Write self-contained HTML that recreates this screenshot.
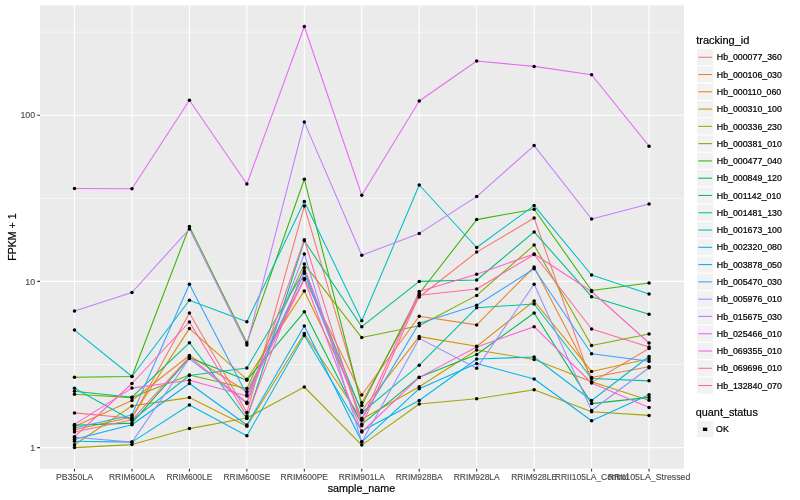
<!DOCTYPE html><html><head><meta charset="utf-8"><title>expression plot</title>
<style>html,body{margin:0;padding:0;background:#fff}svg{display:block;will-change:transform}text{font-family:"Liberation Sans",sans-serif}</style></head><body>
<svg width="800" height="500" viewBox="0 0 800 500">
<rect width="800" height="500" fill="#fff"/>
<rect x="40" y="5.5" width="644" height="463.15" fill="#EBEBEB"/>
<path d="M40 364.5H684M40 198.3H684M40 32.1H684" stroke="#fff" stroke-width="0.53" fill="none" opacity="1"/>
<path d="M40 447.6H684M40 281.4H684M40 115.2H684M74.5 5.5V468.65M131.95 5.5V468.65M189.41 5.5V468.65M246.87 5.5V468.65M304.32 5.5V468.65M361.77 5.5V468.65M419.23 5.5V468.65M476.69 5.5V468.65M534.14 5.5V468.65M591.6 5.5V468.65M649.05 5.5V468.65" stroke="#fff" stroke-width="1.07" fill="none"/>
<g fill="none" stroke-width="1.07" stroke-linejoin="round" stroke-linecap="butt">
<path d="M74.5 412.9L131.95 418.2L189.41 312.9L246.87 412.6L304.32 206.1L361.77 402.7L419.23 297L476.69 252.1L534.14 218L591.6 382.4L649.05 348.5" stroke="#F8766D"/>
<path d="M74.5 426.4L131.95 400.5L189.41 355.5L246.87 391.8L304.32 278.5L361.77 395L419.23 316.3L476.69 324.9L534.14 267L591.6 377.5L649.05 366.8" stroke="#EA8331"/>
<path d="M74.5 429.7L131.95 417L189.41 328.6L246.87 379.3L304.32 290.9L361.77 410.5L419.23 336.6L476.69 346.3L534.14 301L591.6 371.4L649.05 358.8" stroke="#D89000"/>
<path d="M74.5 444.7L131.95 405.9L189.41 397.6L246.87 426.2L304.32 333.5L361.77 419.2L419.23 386.7L476.69 350L534.14 359.5L591.6 381.8L649.05 400.2" stroke="#C09B00"/>
<path d="M74.5 447.6L131.95 444.6L189.41 428.6L246.87 418L304.32 387L361.77 445.1L419.23 404L476.69 398.7L534.14 389.8L591.6 411.7L649.05 415.4" stroke="#A3A500"/>
<path d="M74.5 394.2L131.95 397.6L189.41 374.9L246.87 388.5L304.32 264.1L361.77 337.6L419.23 325.8L476.69 295.4L534.14 245.1L591.6 345.5L649.05 333.9" stroke="#7CAE00"/>
<path d="M74.5 377.2L131.95 376.5L189.41 226.5L246.87 342.7L304.32 179.2L361.77 405.5L419.23 293.5L476.69 219.6L534.14 209.2L591.6 290.5L649.05 283" stroke="#39B600"/>
<path d="M74.5 425.2L131.95 423.1L189.41 357.8L246.87 380.2L304.32 311.8L361.77 424.3L419.23 377.2L476.69 354.5L534.14 313L591.6 403.6L649.05 397.4" stroke="#00BB4E"/>
<path d="M74.5 391.2L131.95 397.2L189.41 342.8L246.87 418.5L304.32 240.8L361.77 326.7L419.23 281.4L476.69 280L534.14 231.9L591.6 296.7L649.05 314.2" stroke="#00BF7D"/>
<path d="M74.5 388.3L131.95 420.3L189.41 375.5L246.87 368L304.32 270.8L361.77 412.5L419.23 365.2L476.69 307.7L534.14 304L591.6 378.5L649.05 380.85" stroke="#00C1A3"/>
<path d="M74.5 330.1L131.95 376.5L189.41 300.3L246.87 321.7L304.32 201.4L361.77 320.7L419.23 185L476.69 247.5L534.14 205.6L591.6 275L649.05 293.9" stroke="#00BFC4"/>
<path d="M74.5 441.3L131.95 442.1L189.41 405L246.87 435.7L304.32 335.5L361.77 431L419.23 400.5L476.69 359L534.14 357L591.6 400.5L649.05 356.5" stroke="#00BAE0"/>
<path d="M74.5 439.2L131.95 424.7L189.41 383.5L246.87 425L304.32 326L361.77 441.8L419.23 388.7L476.69 363.5L534.14 379L591.6 420.7L649.05 394.7" stroke="#00B0F6"/>
<path d="M74.5 428.1L131.95 414.9L189.41 284.3L246.87 394.8L304.32 273.3L361.77 418.6L419.23 323.3L476.69 305.3L534.14 268.7L591.6 353.7L649.05 361.2" stroke="#35A2FF"/>
<path d="M74.5 437.2L131.95 442.1L189.41 358.5L246.87 403.5L304.32 254L361.77 442L419.23 338.4L476.69 368.2L534.14 284.2L591.6 410.5L649.05 367.7" stroke="#9590FF"/>
<path d="M74.5 311.1L131.95 292.5L189.41 229L246.87 345L304.32 122.1L361.77 255.25L419.23 233.4L476.69 196.6L534.14 145.6L591.6 219L649.05 203.9" stroke="#C77CFF"/>
<path d="M74.5 188.5L131.95 188.75L189.41 100.3L246.87 184L304.32 26.5L361.77 195.25L419.23 101L476.69 61L534.14 66.4L591.6 74.75L649.05 146.2" stroke="#E76BF3"/>
<path d="M74.5 424.4L131.95 388.1L189.41 380.3L246.87 396L304.32 279.5L361.77 432L419.23 377.4L476.69 347L534.14 326.7L591.6 383L649.05 407.5" stroke="#FA62DB"/>
<path d="M74.5 436.8L131.95 383.5L189.41 322L246.87 416L304.32 267.8L361.77 420.3L419.23 291.5L476.69 274.2L534.14 254L591.6 291.5L649.05 343" stroke="#FF62BC"/>
<path d="M74.5 431.9L131.95 419.8L189.41 356.8L246.87 402.3L304.32 239.8L361.77 425.8L419.23 295.3L476.69 289L534.14 254.5L591.6 329L649.05 347" stroke="#FF6A98"/>
</g>
<g fill="#000">
<circle cx="74.5" cy="412.9" r="1.75"/>
<circle cx="131.95" cy="418.2" r="1.75"/>
<circle cx="189.41" cy="312.9" r="1.75"/>
<circle cx="246.87" cy="412.6" r="1.75"/>
<circle cx="304.32" cy="206.1" r="1.75"/>
<circle cx="361.77" cy="402.7" r="1.75"/>
<circle cx="419.23" cy="297" r="1.75"/>
<circle cx="476.69" cy="252.1" r="1.75"/>
<circle cx="534.14" cy="218" r="1.75"/>
<circle cx="591.6" cy="382.4" r="1.75"/>
<circle cx="649.05" cy="348.5" r="1.75"/>
<circle cx="74.5" cy="426.4" r="1.75"/>
<circle cx="131.95" cy="400.5" r="1.75"/>
<circle cx="189.41" cy="355.5" r="1.75"/>
<circle cx="246.87" cy="391.8" r="1.75"/>
<circle cx="304.32" cy="278.5" r="1.75"/>
<circle cx="361.77" cy="395" r="1.75"/>
<circle cx="419.23" cy="316.3" r="1.75"/>
<circle cx="476.69" cy="324.9" r="1.75"/>
<circle cx="534.14" cy="267" r="1.75"/>
<circle cx="591.6" cy="377.5" r="1.75"/>
<circle cx="649.05" cy="366.8" r="1.75"/>
<circle cx="74.5" cy="429.7" r="1.75"/>
<circle cx="131.95" cy="417" r="1.75"/>
<circle cx="189.41" cy="328.6" r="1.75"/>
<circle cx="246.87" cy="379.3" r="1.75"/>
<circle cx="304.32" cy="290.9" r="1.75"/>
<circle cx="361.77" cy="410.5" r="1.75"/>
<circle cx="419.23" cy="336.6" r="1.75"/>
<circle cx="476.69" cy="346.3" r="1.75"/>
<circle cx="534.14" cy="301" r="1.75"/>
<circle cx="591.6" cy="371.4" r="1.75"/>
<circle cx="649.05" cy="358.8" r="1.75"/>
<circle cx="74.5" cy="444.7" r="1.75"/>
<circle cx="131.95" cy="405.9" r="1.75"/>
<circle cx="189.41" cy="397.6" r="1.75"/>
<circle cx="246.87" cy="426.2" r="1.75"/>
<circle cx="304.32" cy="333.5" r="1.75"/>
<circle cx="361.77" cy="419.2" r="1.75"/>
<circle cx="419.23" cy="386.7" r="1.75"/>
<circle cx="476.69" cy="350" r="1.75"/>
<circle cx="534.14" cy="359.5" r="1.75"/>
<circle cx="591.6" cy="381.8" r="1.75"/>
<circle cx="649.05" cy="400.2" r="1.75"/>
<circle cx="74.5" cy="447.6" r="1.75"/>
<circle cx="131.95" cy="444.6" r="1.75"/>
<circle cx="189.41" cy="428.6" r="1.75"/>
<circle cx="246.87" cy="418" r="1.75"/>
<circle cx="304.32" cy="387" r="1.75"/>
<circle cx="361.77" cy="445.1" r="1.75"/>
<circle cx="419.23" cy="404" r="1.75"/>
<circle cx="476.69" cy="398.7" r="1.75"/>
<circle cx="534.14" cy="389.8" r="1.75"/>
<circle cx="591.6" cy="411.7" r="1.75"/>
<circle cx="649.05" cy="415.4" r="1.75"/>
<circle cx="74.5" cy="394.2" r="1.75"/>
<circle cx="131.95" cy="397.6" r="1.75"/>
<circle cx="189.41" cy="374.9" r="1.75"/>
<circle cx="246.87" cy="388.5" r="1.75"/>
<circle cx="304.32" cy="264.1" r="1.75"/>
<circle cx="361.77" cy="337.6" r="1.75"/>
<circle cx="419.23" cy="325.8" r="1.75"/>
<circle cx="476.69" cy="295.4" r="1.75"/>
<circle cx="534.14" cy="245.1" r="1.75"/>
<circle cx="591.6" cy="345.5" r="1.75"/>
<circle cx="649.05" cy="333.9" r="1.75"/>
<circle cx="74.5" cy="377.2" r="1.75"/>
<circle cx="131.95" cy="376.5" r="1.75"/>
<circle cx="189.41" cy="226.5" r="1.75"/>
<circle cx="246.87" cy="342.7" r="1.75"/>
<circle cx="304.32" cy="179.2" r="1.75"/>
<circle cx="361.77" cy="405.5" r="1.75"/>
<circle cx="419.23" cy="293.5" r="1.75"/>
<circle cx="476.69" cy="219.6" r="1.75"/>
<circle cx="534.14" cy="209.2" r="1.75"/>
<circle cx="591.6" cy="290.5" r="1.75"/>
<circle cx="649.05" cy="283" r="1.75"/>
<circle cx="74.5" cy="425.2" r="1.75"/>
<circle cx="131.95" cy="423.1" r="1.75"/>
<circle cx="189.41" cy="357.8" r="1.75"/>
<circle cx="246.87" cy="380.2" r="1.75"/>
<circle cx="304.32" cy="311.8" r="1.75"/>
<circle cx="361.77" cy="424.3" r="1.75"/>
<circle cx="419.23" cy="377.2" r="1.75"/>
<circle cx="476.69" cy="354.5" r="1.75"/>
<circle cx="534.14" cy="313" r="1.75"/>
<circle cx="591.6" cy="403.6" r="1.75"/>
<circle cx="649.05" cy="397.4" r="1.75"/>
<circle cx="74.5" cy="391.2" r="1.75"/>
<circle cx="131.95" cy="397.2" r="1.75"/>
<circle cx="189.41" cy="342.8" r="1.75"/>
<circle cx="246.87" cy="418.5" r="1.75"/>
<circle cx="304.32" cy="240.8" r="1.75"/>
<circle cx="361.77" cy="326.7" r="1.75"/>
<circle cx="419.23" cy="281.4" r="1.75"/>
<circle cx="476.69" cy="280" r="1.75"/>
<circle cx="534.14" cy="231.9" r="1.75"/>
<circle cx="591.6" cy="296.7" r="1.75"/>
<circle cx="649.05" cy="314.2" r="1.75"/>
<circle cx="74.5" cy="388.3" r="1.75"/>
<circle cx="131.95" cy="420.3" r="1.75"/>
<circle cx="189.41" cy="375.5" r="1.75"/>
<circle cx="246.87" cy="368" r="1.75"/>
<circle cx="304.32" cy="270.8" r="1.75"/>
<circle cx="361.77" cy="412.5" r="1.75"/>
<circle cx="419.23" cy="365.2" r="1.75"/>
<circle cx="476.69" cy="307.7" r="1.75"/>
<circle cx="534.14" cy="304" r="1.75"/>
<circle cx="591.6" cy="378.5" r="1.75"/>
<circle cx="649.05" cy="380.85" r="1.75"/>
<circle cx="74.5" cy="330.1" r="1.75"/>
<circle cx="131.95" cy="376.5" r="1.75"/>
<circle cx="189.41" cy="300.3" r="1.75"/>
<circle cx="246.87" cy="321.7" r="1.75"/>
<circle cx="304.32" cy="201.4" r="1.75"/>
<circle cx="361.77" cy="320.7" r="1.75"/>
<circle cx="419.23" cy="185" r="1.75"/>
<circle cx="476.69" cy="247.5" r="1.75"/>
<circle cx="534.14" cy="205.6" r="1.75"/>
<circle cx="591.6" cy="275" r="1.75"/>
<circle cx="649.05" cy="293.9" r="1.75"/>
<circle cx="74.5" cy="441.3" r="1.75"/>
<circle cx="131.95" cy="442.1" r="1.75"/>
<circle cx="189.41" cy="405" r="1.75"/>
<circle cx="246.87" cy="435.7" r="1.75"/>
<circle cx="304.32" cy="335.5" r="1.75"/>
<circle cx="361.77" cy="431" r="1.75"/>
<circle cx="419.23" cy="400.5" r="1.75"/>
<circle cx="476.69" cy="359" r="1.75"/>
<circle cx="534.14" cy="357" r="1.75"/>
<circle cx="591.6" cy="400.5" r="1.75"/>
<circle cx="649.05" cy="356.5" r="1.75"/>
<circle cx="74.5" cy="439.2" r="1.75"/>
<circle cx="131.95" cy="424.7" r="1.75"/>
<circle cx="189.41" cy="383.5" r="1.75"/>
<circle cx="246.87" cy="425" r="1.75"/>
<circle cx="304.32" cy="326" r="1.75"/>
<circle cx="361.77" cy="441.8" r="1.75"/>
<circle cx="419.23" cy="388.7" r="1.75"/>
<circle cx="476.69" cy="363.5" r="1.75"/>
<circle cx="534.14" cy="379" r="1.75"/>
<circle cx="591.6" cy="420.7" r="1.75"/>
<circle cx="649.05" cy="394.7" r="1.75"/>
<circle cx="74.5" cy="428.1" r="1.75"/>
<circle cx="131.95" cy="414.9" r="1.75"/>
<circle cx="189.41" cy="284.3" r="1.75"/>
<circle cx="246.87" cy="394.8" r="1.75"/>
<circle cx="304.32" cy="273.3" r="1.75"/>
<circle cx="361.77" cy="418.6" r="1.75"/>
<circle cx="419.23" cy="323.3" r="1.75"/>
<circle cx="476.69" cy="305.3" r="1.75"/>
<circle cx="534.14" cy="268.7" r="1.75"/>
<circle cx="591.6" cy="353.7" r="1.75"/>
<circle cx="649.05" cy="361.2" r="1.75"/>
<circle cx="74.5" cy="437.2" r="1.75"/>
<circle cx="131.95" cy="442.1" r="1.75"/>
<circle cx="189.41" cy="358.5" r="1.75"/>
<circle cx="246.87" cy="403.5" r="1.75"/>
<circle cx="304.32" cy="254" r="1.75"/>
<circle cx="361.77" cy="442" r="1.75"/>
<circle cx="419.23" cy="338.4" r="1.75"/>
<circle cx="476.69" cy="368.2" r="1.75"/>
<circle cx="534.14" cy="284.2" r="1.75"/>
<circle cx="591.6" cy="410.5" r="1.75"/>
<circle cx="649.05" cy="367.7" r="1.75"/>
<circle cx="74.5" cy="311.1" r="1.75"/>
<circle cx="131.95" cy="292.5" r="1.75"/>
<circle cx="189.41" cy="229" r="1.75"/>
<circle cx="246.87" cy="345" r="1.75"/>
<circle cx="304.32" cy="122.1" r="1.75"/>
<circle cx="361.77" cy="255.25" r="1.75"/>
<circle cx="419.23" cy="233.4" r="1.75"/>
<circle cx="476.69" cy="196.6" r="1.75"/>
<circle cx="534.14" cy="145.6" r="1.75"/>
<circle cx="591.6" cy="219" r="1.75"/>
<circle cx="649.05" cy="203.9" r="1.75"/>
<circle cx="74.5" cy="188.5" r="1.75"/>
<circle cx="131.95" cy="188.75" r="1.75"/>
<circle cx="189.41" cy="100.3" r="1.75"/>
<circle cx="246.87" cy="184" r="1.75"/>
<circle cx="304.32" cy="26.5" r="1.75"/>
<circle cx="361.77" cy="195.25" r="1.75"/>
<circle cx="419.23" cy="101" r="1.75"/>
<circle cx="476.69" cy="61" r="1.75"/>
<circle cx="534.14" cy="66.4" r="1.75"/>
<circle cx="591.6" cy="74.75" r="1.75"/>
<circle cx="649.05" cy="146.2" r="1.75"/>
<circle cx="74.5" cy="424.4" r="1.75"/>
<circle cx="131.95" cy="388.1" r="1.75"/>
<circle cx="189.41" cy="380.3" r="1.75"/>
<circle cx="246.87" cy="396" r="1.75"/>
<circle cx="304.32" cy="279.5" r="1.75"/>
<circle cx="361.77" cy="432" r="1.75"/>
<circle cx="419.23" cy="377.4" r="1.75"/>
<circle cx="476.69" cy="347" r="1.75"/>
<circle cx="534.14" cy="326.7" r="1.75"/>
<circle cx="591.6" cy="383" r="1.75"/>
<circle cx="649.05" cy="407.5" r="1.75"/>
<circle cx="74.5" cy="436.8" r="1.75"/>
<circle cx="131.95" cy="383.5" r="1.75"/>
<circle cx="189.41" cy="322" r="1.75"/>
<circle cx="246.87" cy="416" r="1.75"/>
<circle cx="304.32" cy="267.8" r="1.75"/>
<circle cx="361.77" cy="420.3" r="1.75"/>
<circle cx="419.23" cy="291.5" r="1.75"/>
<circle cx="476.69" cy="274.2" r="1.75"/>
<circle cx="534.14" cy="254" r="1.75"/>
<circle cx="591.6" cy="291.5" r="1.75"/>
<circle cx="649.05" cy="343" r="1.75"/>
<circle cx="74.5" cy="431.9" r="1.75"/>
<circle cx="131.95" cy="419.8" r="1.75"/>
<circle cx="189.41" cy="356.8" r="1.75"/>
<circle cx="246.87" cy="402.3" r="1.75"/>
<circle cx="304.32" cy="239.8" r="1.75"/>
<circle cx="361.77" cy="425.8" r="1.75"/>
<circle cx="419.23" cy="295.3" r="1.75"/>
<circle cx="476.69" cy="289" r="1.75"/>
<circle cx="534.14" cy="254.5" r="1.75"/>
<circle cx="591.6" cy="329" r="1.75"/>
<circle cx="649.05" cy="347" r="1.75"/>
</g>
<path d="M37.25 447.6H40M37.25 281.4H40M37.25 115.2H40M74.5 468.65V471.4M131.95 468.65V471.4M189.41 468.65V471.4M246.87 468.65V471.4M304.32 468.65V471.4M361.77 468.65V471.4M419.23 468.65V471.4M476.69 468.65V471.4M534.14 468.65V471.4M591.6 468.65V471.4M649.05 468.65V471.4" stroke="#333" stroke-width="1.07" fill="none"/>
<g font-size="8.8" fill="#4D4D4D" stroke="#4D4D4D" stroke-width="0.15">
<text x="35.1" y="450.75" text-anchor="end">1</text>
<text x="35.1" y="284.55" text-anchor="end">10</text>
<text x="35.1" y="118.35" text-anchor="end">100</text>
<text x="74.5" y="480" text-anchor="middle" textLength="37" lengthAdjust="spacingAndGlyphs">PB350LA</text>
<text x="131.95" y="480" text-anchor="middle" textLength="45.8" lengthAdjust="spacingAndGlyphs">RRIM600LA</text>
<text x="189.41" y="480" text-anchor="middle" textLength="46" lengthAdjust="spacingAndGlyphs">RRIM600LE</text>
<text x="246.87" y="480" text-anchor="middle" textLength="46.8" lengthAdjust="spacingAndGlyphs">RRIM600SE</text>
<text x="304.32" y="480" text-anchor="middle" textLength="47.4" lengthAdjust="spacingAndGlyphs">RRIM600PE</text>
<text x="361.77" y="480" text-anchor="middle" textLength="46" lengthAdjust="spacingAndGlyphs">RRIM901LA</text>
<text x="419.23" y="480" text-anchor="middle" textLength="47" lengthAdjust="spacingAndGlyphs">RRIM928BA</text>
<text x="476.69" y="480" text-anchor="middle" textLength="46" lengthAdjust="spacingAndGlyphs">RRIM928LA</text>
<text x="534.14" y="480" text-anchor="middle" textLength="46" lengthAdjust="spacingAndGlyphs">RRIM928LE</text>
<text x="591.6" y="480" text-anchor="middle" textLength="73.5" lengthAdjust="spacingAndGlyphs">RRII105LA_Control</text>
<text x="649.05" y="480" text-anchor="middle" textLength="82.7" lengthAdjust="spacingAndGlyphs">RRII105LA_Stressed</text>
</g>
<g font-size="11" fill="#000" stroke="#000" stroke-width="0.2">
<text x="361.5" y="492" text-anchor="middle" textLength="67.5" lengthAdjust="spacingAndGlyphs">sample_name</text>
<text transform="translate(16.2 237.1) rotate(-90)" text-anchor="middle" textLength="47.5" lengthAdjust="spacingAndGlyphs">FPKM + 1</text>
<text x="696.2" y="43.9">tracking_id</text>
<text x="695.8" y="416.1" textLength="62" lengthAdjust="spacingAndGlyphs">quant_status</text>
</g>
<rect x="696.6" y="48.6" width="17.28" height="17.28" fill="#F2F2F2" stroke="#fff" stroke-width="1.07"/>
<path d="M698.3 57.24H712.1" stroke="#F8766D" stroke-width="1.07"/>
<rect x="696.6" y="65.88" width="17.28" height="17.28" fill="#F2F2F2" stroke="#fff" stroke-width="1.07"/>
<path d="M698.3 74.52H712.1" stroke="#EA8331" stroke-width="1.07"/>
<rect x="696.6" y="83.16" width="17.28" height="17.28" fill="#F2F2F2" stroke="#fff" stroke-width="1.07"/>
<path d="M698.3 91.8H712.1" stroke="#D89000" stroke-width="1.07"/>
<rect x="696.6" y="100.44" width="17.28" height="17.28" fill="#F2F2F2" stroke="#fff" stroke-width="1.07"/>
<path d="M698.3 109.08H712.1" stroke="#C09B00" stroke-width="1.07"/>
<rect x="696.6" y="117.72" width="17.28" height="17.28" fill="#F2F2F2" stroke="#fff" stroke-width="1.07"/>
<path d="M698.3 126.36H712.1" stroke="#A3A500" stroke-width="1.07"/>
<rect x="696.6" y="135" width="17.28" height="17.28" fill="#F2F2F2" stroke="#fff" stroke-width="1.07"/>
<path d="M698.3 143.64H712.1" stroke="#7CAE00" stroke-width="1.07"/>
<rect x="696.6" y="152.28" width="17.28" height="17.28" fill="#F2F2F2" stroke="#fff" stroke-width="1.07"/>
<path d="M698.3 160.92H712.1" stroke="#39B600" stroke-width="1.07"/>
<rect x="696.6" y="169.56" width="17.28" height="17.28" fill="#F2F2F2" stroke="#fff" stroke-width="1.07"/>
<path d="M698.3 178.2H712.1" stroke="#00BB4E" stroke-width="1.07"/>
<rect x="696.6" y="186.84" width="17.28" height="17.28" fill="#F2F2F2" stroke="#fff" stroke-width="1.07"/>
<path d="M698.3 195.48H712.1" stroke="#00BF7D" stroke-width="1.07"/>
<rect x="696.6" y="204.12" width="17.28" height="17.28" fill="#F2F2F2" stroke="#fff" stroke-width="1.07"/>
<path d="M698.3 212.76H712.1" stroke="#00C1A3" stroke-width="1.07"/>
<rect x="696.6" y="221.4" width="17.28" height="17.28" fill="#F2F2F2" stroke="#fff" stroke-width="1.07"/>
<path d="M698.3 230.04H712.1" stroke="#00BFC4" stroke-width="1.07"/>
<rect x="696.6" y="238.68" width="17.28" height="17.28" fill="#F2F2F2" stroke="#fff" stroke-width="1.07"/>
<path d="M698.3 247.32H712.1" stroke="#00BAE0" stroke-width="1.07"/>
<rect x="696.6" y="255.96" width="17.28" height="17.28" fill="#F2F2F2" stroke="#fff" stroke-width="1.07"/>
<path d="M698.3 264.6H712.1" stroke="#00B0F6" stroke-width="1.07"/>
<rect x="696.6" y="273.24" width="17.28" height="17.28" fill="#F2F2F2" stroke="#fff" stroke-width="1.07"/>
<path d="M698.3 281.88H712.1" stroke="#35A2FF" stroke-width="1.07"/>
<rect x="696.6" y="290.52" width="17.28" height="17.28" fill="#F2F2F2" stroke="#fff" stroke-width="1.07"/>
<path d="M698.3 299.16H712.1" stroke="#9590FF" stroke-width="1.07"/>
<rect x="696.6" y="307.8" width="17.28" height="17.28" fill="#F2F2F2" stroke="#fff" stroke-width="1.07"/>
<path d="M698.3 316.44H712.1" stroke="#C77CFF" stroke-width="1.07"/>
<rect x="696.6" y="325.08" width="17.28" height="17.28" fill="#F2F2F2" stroke="#fff" stroke-width="1.07"/>
<path d="M698.3 333.72H712.1" stroke="#E76BF3" stroke-width="1.07"/>
<rect x="696.6" y="342.36" width="17.28" height="17.28" fill="#F2F2F2" stroke="#fff" stroke-width="1.07"/>
<path d="M698.3 351H712.1" stroke="#FA62DB" stroke-width="1.07"/>
<rect x="696.6" y="359.64" width="17.28" height="17.28" fill="#F2F2F2" stroke="#fff" stroke-width="1.07"/>
<path d="M698.3 368.28H712.1" stroke="#FF62BC" stroke-width="1.07"/>
<rect x="696.6" y="376.92" width="17.28" height="17.28" fill="#F2F2F2" stroke="#fff" stroke-width="1.07"/>
<path d="M698.3 385.56H712.1" stroke="#FF6A98" stroke-width="1.07"/>
<g font-size="8.8" fill="#000" stroke="#000" stroke-width="0.22">
<text x="716.8" y="60.39">Hb_000077_360</text>
<text x="716.8" y="77.67">Hb_000106_030</text>
<text x="716.8" y="94.95">Hb_000110_060</text>
<text x="716.8" y="112.23">Hb_000310_100</text>
<text x="716.8" y="129.51">Hb_000336_230</text>
<text x="716.8" y="146.79">Hb_000381_010</text>
<text x="716.8" y="164.07">Hb_000477_040</text>
<text x="716.8" y="181.35">Hb_000849_120</text>
<text x="716.8" y="198.63">Hb_001142_010</text>
<text x="716.8" y="215.91">Hb_001481_130</text>
<text x="716.8" y="233.19">Hb_001673_100</text>
<text x="716.8" y="250.47">Hb_002320_080</text>
<text x="716.8" y="267.75">Hb_003878_050</text>
<text x="716.8" y="285.03">Hb_005470_030</text>
<text x="716.8" y="302.31">Hb_005976_010</text>
<text x="716.8" y="319.59">Hb_015675_030</text>
<text x="716.8" y="336.87">Hb_025466_010</text>
<text x="716.8" y="354.15">Hb_069355_010</text>
<text x="716.8" y="371.43">Hb_069696_010</text>
<text x="716.8" y="388.71">Hb_132840_070</text>
<text x="716.1" y="432.49">OK</text>
</g>
<rect x="696.6" y="420.6" width="17.28" height="17.28" fill="#F2F2F2" stroke="#fff" stroke-width="1.07"/>
<rect x="702.9" y="427.6" width="4.3" height="3.4" fill="#000"/>
</svg></body></html>
